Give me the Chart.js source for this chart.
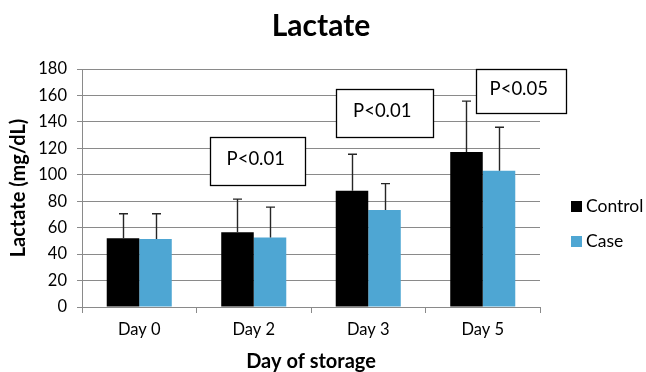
<!DOCTYPE html>
<html>
<head>
<meta charset="utf-8">
<script src="https://cdn.jsdelivr.net/npm/chart.js@4/dist/chart.umd.min.js"></script>
<style>
  html, body { margin: 0; padding: 0; background: #ffffff; }
  #wrap { width: 646px; height: 372px; }
</style>
</head>
<body>
<div id="wrap"><canvas id="c" width="646" height="372"></canvas></div>
<script>
// Lactate by day of storage (mean with upward SD bar)
const categories = ['Day 0', 'Day 2', 'Day 3', 'Day 5'];
const controlMean = [52, 56.6, 88, 117.2];
const controlSD = [18.5, 25, 27.5, 38.5];
const caseMean = [51.5, 52.5, 73.3, 103];
const caseSD = [19, 23, 20, 33];
const pLabels = ['', 'P<0.01', 'P<0.01', 'P<0.05'];
const yMin = 0, yMax = 180, yStep = 20;
const chartTitle = 'Lactate';

const FONT = "Lato, 'Open Sans', 'Liberation Sans', sans-serif";
const GRID = '#8a8a8a';

// Where each p-value box sits: value range on the y scale and a shift from the category centre
const pBoxes = [
  { index: 1, top: 128.6, bottom: 92.5, dx: 4, width: 95 },
  { index: 2, top: 165.2, bottom: 128.6, dx: 16, width: 97 },
  { index: 3, top: 180.2, bottom: 146.8, dx: 38, width: 90 }
];

const errorBars = {
  id: 'errorBars',
  afterDatasetsDraw(chart) {
    const { ctx, scales: { y } } = chart;
    ctx.save();
    ctx.strokeStyle = '#262626';
    ctx.lineWidth = 1.4;
    chart.data.datasets.forEach((ds, di) => {
      const meta = chart.getDatasetMeta(di);
      meta.data.forEach((bar, i) => {
        const yTop = y.getPixelForValue(ds.data[i] + ds.sd[i]);
        const x = Math.round(bar.x) + 0.5;
        ctx.beginPath();
        ctx.moveTo(x, bar.y);
        ctx.lineTo(x, yTop);
        ctx.moveTo(x - 4.5, yTop);
        ctx.lineTo(x + 4.5, yTop);
        ctx.stroke();
      });
    });
    ctx.restore();
  }
};

const pValueBoxes = {
  id: 'pValueBoxes',
  afterDraw(chart) {
    const { ctx, scales: { x, y } } = chart;
    ctx.save();
    pBoxes.forEach(b => {
      const cx = x.getPixelForValue(b.index) + b.dx;
      const top = y.getPixelForValue(b.top);
      const bottom = y.getPixelForValue(b.bottom);
      const left = Math.round(cx - b.width / 2) + 0.5;
      ctx.fillStyle = '#ffffff';
      ctx.fillRect(left, Math.round(top) + 0.5, b.width, Math.round(bottom - top));
      ctx.strokeStyle = '#000000';
      ctx.lineWidth = 1.3;
      ctx.strokeRect(left, Math.round(top) + 0.5, b.width, Math.round(bottom - top));
      ctx.fillStyle = '#000000';
      ctx.font = '18.5px ' + FONT;
      ctx.textAlign = 'center';
      ctx.textBaseline = 'middle';
      ctx.fillText(pLabels[b.index], cx - 2, (top + bottom) / 2 - 2);
    });
    ctx.restore();
  }
};

const sideLegend = {
  id: 'sideLegend',
  afterDraw(chart) {
    const { ctx, chartArea } = chart;
    ctx.save();
    ctx.font = '17.5px ' + FONT;
    ctx.textAlign = 'left';
    ctx.textBaseline = 'middle';
    const x0 = chartArea.right + 31;
    chart.data.datasets.forEach((ds, i) => {
      const cy = 206.5 + i * 35;
      ctx.fillStyle = ds.backgroundColor;
      ctx.fillRect(x0, cy - 5.5, 11, 11);
      ctx.fillStyle = '#000000';
      ctx.fillText(ds.label, x0 + 15, cy);
    });
    ctx.restore();
  }
};

// Title centred across the whole canvas
const pageTitle = {
  id: 'pageTitle',
  afterDraw(chart) {
    const { ctx, width } = chart;
    ctx.save();
    ctx.fillStyle = '#000000';
    ctx.font = 'bold 30px ' + FONT;
    ctx.textAlign = 'center';
    ctx.textBaseline = 'alphabetic';
    ctx.fillText(chartTitle, width / 2 - 2, 36);
    ctx.restore();
  }
};

new Chart(document.getElementById('c'), {
  type: 'bar',
  data: {
    labels: categories,
    datasets: [
      { label: 'Control', data: controlMean, sd: controlSD, backgroundColor: '#000000' },
      { label: 'Case', data: caseMean, sd: caseSD, backgroundColor: '#4ea6d3' }
    ]
  },
  options: {
    responsive: false,
    animation: false,
    devicePixelRatio: 1,
    layout: { padding: { top: 69, right: 106, bottom: 0, left: 0 } },
    datasets: { bar: { categoryPercentage: 0.568, barPercentage: 1.0, borderWidth: 0 } },
    plugins: {
      legend: { display: false },
      tooltip: { enabled: false },
      title: { display: false }
    },
    scales: {
      x: {
        afterFit(s) { s.height = 65; },
        grid: { display: true, drawOnChartArea: false, drawTicks: true, tickLength: 6, offset: true, color: GRID },
        border: { display: true, color: GRID, width: 1 },
        ticks: { color: '#000000', padding: 7, font: { family: FONT, size: 16.5 } },
        title: {
          display: true,
          text: 'Day of storage',
          color: '#000000',
          font: { family: FONT, size: 20, weight: 'bold', lineHeight: 1.2 },
          padding: { top: 0, bottom: -2 }
        }
      },
      y: {
        min: yMin,
        max: yMax,
        afterFit(s) { s.width = 82; },
        grid: { color: GRID, tickLength: 5, drawTicks: true },
        border: { display: true, color: GRID, width: 1 },
        ticks: { stepSize: yStep, color: '#000000', padding: 10, font: { family: FONT, size: 16.5 } },
        title: {
          display: true,
          text: 'Lactate (mg/dL)',
          color: '#000000',
          font: { family: FONT, size: 20, weight: 'bold', lineHeight: 1.2 },
          padding: { top: 7, bottom: 0 }
        }
      }
    }
  },
  plugins: [errorBars, pValueBoxes, sideLegend, pageTitle]
});
</script>
</body>
</html>
